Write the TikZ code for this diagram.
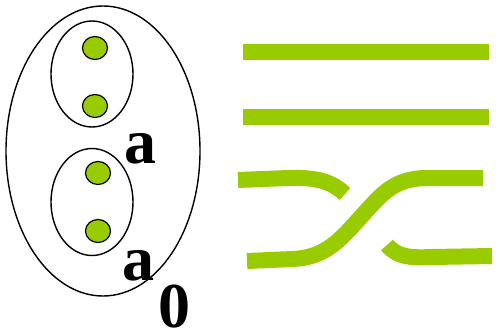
\documentclass[tikz,border=0pt]{standalone}
\usepackage{fontspec}
\setmainfont{Liberation Serif}
\usetikzlibrary{shapes.geometric}
\definecolor{Lime}{HTML}{99CC00}
\tikzset{set/.style={draw=black,line width=1.4pt,ellipse,inner sep=0pt},
  dot/.style={draw=black,line width=1.2pt,fill=Lime,ellipse,inner sep=0pt,minimum width=25pt,minimum height=23pt},
  lbl/.style={font=\fontsize{64}{64}\selectfont\bfseries,inner sep=0pt,anchor=base},
  strand/.style={draw=Lime,line width=16pt}}
\begin{document}
\begin{tikzpicture}[x=1pt,y=-1pt]
\useasboundingbox (0,0) rectangle (496,332);
% nested sets
\node[set,minimum width=194pt,minimum height=290pt] (outer) at (103,151) {};
\node[set,minimum width=82pt,minimum height=106pt] (upper) at (92,74) {};
\node[set,minimum width=82pt,minimum height=107pt] (lower) at (92,202) {};
\node[dot] (d1) at (95,48) {};
\node[dot] (d2) at (95,106) {};
\node[dot] (d3) at (98,173) {};
\node[dot] (d4) at (98,231) {};
\node[lbl] (la) at (140,163) {a};
\node[lbl] (la0) at (138,280) {a};
\node[lbl] (lzero) at (174,327) {0};
% strands
\draw[strand] (243,52) -- (489,52);
\draw[strand] (243,117) -- (489,117);
\draw[strand] (238,180) -- (288,178) .. controls (318,177) and (332,182) .. (345,194);
\draw[strand] (387,245) .. controls (397,257) and (410,258) .. (432,257) -- (492,256);
\draw[strand] (247,261) -- (292,259) .. controls (325,258) and (340,240) .. (360,218)
  .. controls (380,196) and (392,179) .. (425,178) -- (483,178);
\end{tikzpicture}
\end{document}
